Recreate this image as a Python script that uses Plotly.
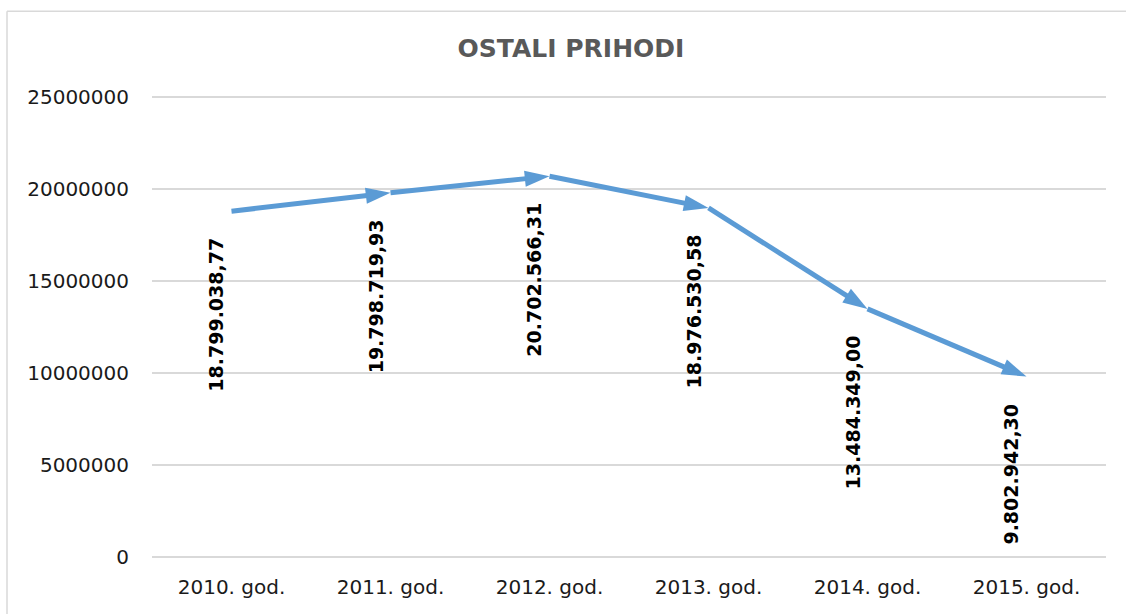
import plotly.graph_objects as go

categories = ["2010. god.", "2011. god.", "2012. god.", "2013. god.", "2014. god.", "2015. god."]
values = [18799038.77, 19798719.93, 20702566.31, 18976530.58, 13484349.00, 9802942.30]
labels = ["18.799.038,77", "19.798.719,93", "20.702.566,31", "18.976.530,58", "13.484.349,00", "9.802.942,30"]
y_ticks = [0, 5000000, 10000000, 15000000, 20000000, 25000000]

LINE = "#5B9BD5"
GRID = "#D9D9D9"
FONT = "DejaVu Sans"

# plot-area geometry (pixels)
PX_PER = 460 / 25000000
PAD = 500000
TOP = 97 - PAD * PX_PER
BOT = 557 + PAD * PX_PER
PH = BOT - TOP
LEFT, RIGHT = 152, 1106
PW = RIGHT - LEFT

fig = go.Figure()
fig.add_trace(go.Scatter(
    x=categories, y=values, mode="lines+markers",
    line=dict(color=LINE, width=5),
    marker=dict(symbol="arrow", angleref="previous",
                size=[0] + [26] * (len(values) - 1), color=LINE, opacity=1,
                line=dict(width=0)),
    hoverinfo="skip", showlegend=False,
))

for c, v, t in zip(categories, values, labels):
    fig.add_annotation(x=c, y=v, text="<b>%s</b>" % t, showarrow=False,
                       textangle=-90, xanchor="center", yanchor="top",
                       xshift=-15, yshift=-25,
                       font=dict(family=FONT, size=19, color="#000000"))

# chart-area frame (left and top edges visible in the picture)
fig.add_shape(type="line", xref="paper", yref="paper",
              x0=(7 - LEFT) / PW, x1=(7 - LEFT) / PW,
              y0=(BOT - 616) / PH, y1=(BOT - 11) / PH,
              line=dict(color=GRID, width=1.5), layer="below")
fig.add_shape(type="line", xref="paper", yref="paper",
              x0=(7 - LEFT) / PW, x1=(1126 - LEFT) / PW,
              y0=(BOT - 11) / PH, y1=(BOT - 11) / PH,
              line=dict(color=GRID, width=1.5), layer="below")

fig.update_layout(
    width=1126, height=614,
    margin=dict(l=LEFT, r=1126 - RIGHT, t=TOP, b=614 - BOT, pad=0),
    paper_bgcolor="white", plot_bgcolor="white",
    title=dict(text="<b>OSTALI PRIHODI</b>", x=571 / 1126, xref="container", xanchor="center",
               y=1 - 48 / 614, yref="container", yanchor="middle",
               font=dict(family=FONT, size=25, color="#595959")),
    xaxis=dict(type="category", range=[-0.5, len(categories) - 0.5],
               showgrid=False, showline=False, ticks="", zeroline=False,
               tickfont=dict(family=FONT, size=20, color="#1a1a1a"), ticklabelstandoff=7),
    yaxis=dict(range=[-PAD, 25000000 + PAD], tickvals=y_ticks, ticktext=[str(v) for v in y_ticks],
               showgrid=True, gridcolor=GRID, gridwidth=1.5, zeroline=False, showline=False,
               ticks="", tickfont=dict(family=FONT, size=20, color="#1a1a1a"),
               ticklabelstandoff=22),
)

fig.write_html(
    "out.html", config={"displayModeBar": False},
    post_script=("document.body.style.margin='0';document.body.style.padding='0';"
                 "document.body.style.overflow='hidden';"
                 "document.documentElement.style.overflow='hidden';"),
)
